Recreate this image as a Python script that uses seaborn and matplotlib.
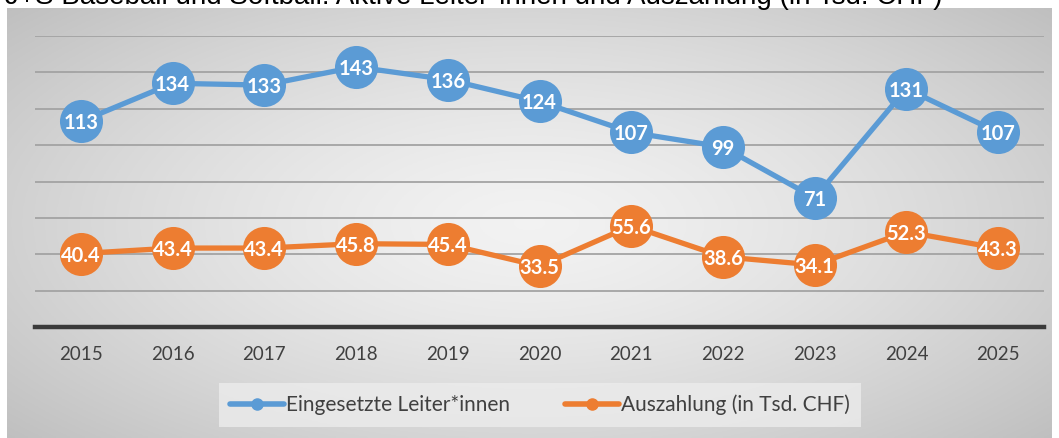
import numpy as np
import pandas as pd
import matplotlib
matplotlib.use("Agg")
import matplotlib.pyplot as plt
from matplotlib.lines import Line2D
import seaborn as sns

# ====== DATA ======
years = ["2015", "2016", "2017", "2018", "2019", "2020", "2021", "2022", "2023", "2024", "2025"]
leiter = [113, 134, 133, 143, 136, 124, 107, 99, 71, 131, 107]
auszahlung = [40.4, 43.4, 43.4, 45.8, 45.4, 33.5, 55.6, 38.6, 34.1, 52.3, 43.3]
label_leiter = "Eingesetzte Leiter*innen"
label_ausz = "Auszahlung (in Tsd. CHF)"
title = "J+S Baseball und Softball: Aktive Leiter*innen und Auszahlung (in Tsd. CHF)"

BLUE = "#5B9BD5"
ORANGE = "#ED7D31"

sns.set_theme(style="white")
plt.rcParams['font.family'] = ['Lato', 'DejaVu Sans']

W, H = 1059, 438
fig = plt.figure(figsize=(W / 100, H / 100), dpi=100)

# ====== BACKGROUND (radial gradient box) ======
bg = fig.add_axes([7 / W, 0, 1045 / W, 430 / H])
gx, gy = np.meshgrid(np.linspace(-1, 1, 400), np.linspace(-1, 1, 200))
r = np.clip(np.sqrt(gx ** 2 + (gy * 0.9) ** 2) / 1.35, 0, 1)
shade = 0.95 - 0.20 * r ** 1.4
bg.imshow(np.dstack([shade] * 3), aspect="auto", extent=[0, 1, 0, 1])
bg.set_axis_off()

# ====== MAIN PLOT ======
ax = fig.add_axes([35 / W, 1 - 327 / H, (1044 - 35) / W, (327 - 36) / H])
ax.set_facecolor("none")
df = pd.DataFrame({"x": np.arange(len(years)), "leiter": leiter, "ausz": auszahlung})

for col, color in [("leiter", BLUE), ("ausz", ORANGE)]:
    sns.lineplot(data=df, x="x", y=col, ax=ax, color=color, linewidth=3.8,
                 marker="o", markersize=31, markeredgewidth=0, zorder=3)
    for xi, v in zip(df["x"], df[col]):
        ax.text(xi, v, f"{v:g}" if col == "leiter" else f"{v:.1f}", ha="center",
                va="center_baseline", color="white", fontsize=14.5, fontweight="bold", zorder=4)

ax.set_xlim(-0.5, len(years) - 0.5)
ax.set_ylim(0, 160)
ax.set_yticks(np.arange(20, 161, 20))
ax.yaxis.grid(True, color="#a3a3a3", linewidth=1.3)
ax.set_yticklabels([])
ax.tick_params(axis="y", length=0)
ax.set_xticks(df["x"])
ax.set_xticklabels(years, fontsize=13.5, color="#404040")
ax.tick_params(axis="x", length=0, pad=14)
ax.set_xlabel("")
ax.set_ylabel("")
for s in ["top", "left", "right"]:
    ax.spines[s].set_visible(False)
ax.spines["bottom"].set_color("#3a3a3a")
ax.spines["bottom"].set_linewidth(3.2)
ax.set_axisbelow(True)

# ====== LEGEND ======
handles = [Line2D([], [], color=BLUE, linewidth=4, marker="o", markersize=8),
           Line2D([], [], color=ORANGE, linewidth=4, marker="o", markersize=8)]
leg = fig.legend(handles, [label_leiter, label_ausz], loc="center",
                 bbox_to_anchor=(540 / W, 1 - 405 / H), ncol=2, fontsize=15,
                 frameon=True, fancybox=False, handlelength=2.6, handletextpad=0.1,
                 columnspacing=2.6, borderpad=0.55, borderaxespad=0)
leg.get_frame().set_facecolor("#ececec")
leg.get_frame().set_edgecolor("none")
for t in leg.get_texts():
    t.set_color("#404040")

# ====== TITLE (cut off at top) ======
fig.text(5 / W, 1 - 4 / H, title, fontsize=20, family="Liberation Sans",
         color="black", ha="left", va="baseline")

fig.savefig("out.png", dpi=100)
